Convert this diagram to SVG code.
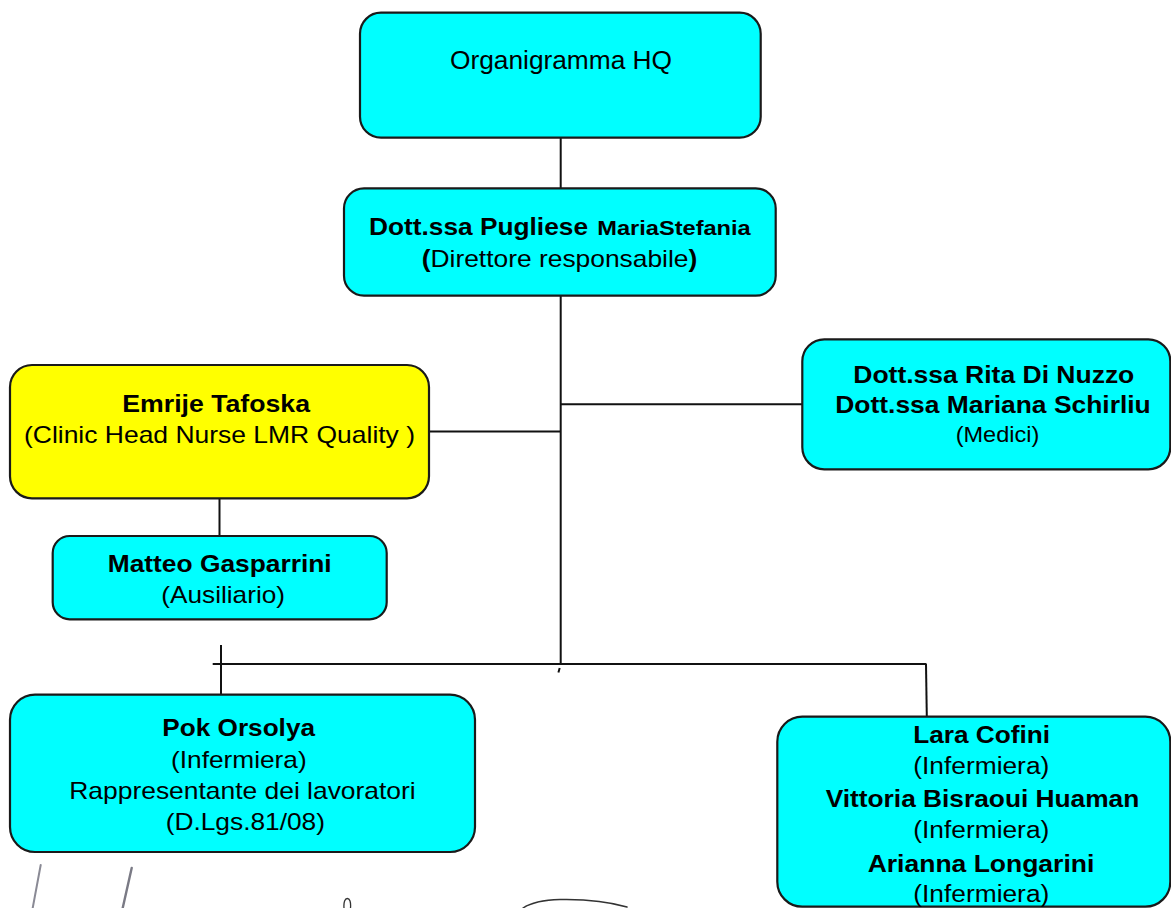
<svg xmlns="http://www.w3.org/2000/svg" width="1171" height="908" viewBox="0 0 1171 908">
<style>
.box{stroke:#1a1a1a;stroke-width:2.2}
.cy{fill:#00FFFF}
.ye{fill:#FFFF00}
.ln{stroke:#111;stroke-width:2;fill:none}
text{font-family:"Liberation Sans",Arial,sans-serif;fill:#000}
.b{font-weight:bold}
</style>
<rect width="1171" height="908" fill="#fff"/>
<g id="connectors">
<line class="ln" x1="560.7" y1="137.7" x2="560.7" y2="188.3"/>
<line class="ln" x1="560.7" y1="295.7" x2="560.7" y2="664"/>
<line class="ln" x1="560.7" y1="404.3" x2="802.3" y2="404.3"/>
<line class="ln" x1="429" y1="431.5" x2="560.7" y2="431.5"/>
<line class="ln" x1="219.5" y1="498.3" x2="219.5" y2="536"/>
<line class="ln" x1="212.7" y1="664" x2="926.5" y2="664"/>
<line class="ln" x1="221" y1="645" x2="221" y2="694.7"/>
<path class="ln" d="M926 664 L926.8 716.7"/>
<path class="ln" d="M559.7 668 L558.4 672.5" stroke-width="1.6"/>
</g>
<g id="node-hq">
<rect class="box cy" x="360" y="12.7" width="400.7" height="125" rx="21"/>
<text x="450" y="69" font-size="25" textLength="222" lengthAdjust="spacingAndGlyphs">Organigramma HQ</text>
</g>
<g id="node-direttore">
<rect class="box cy" x="344" y="188.3" width="431.7" height="107.4" rx="20"/>
<text class="b" x="369" y="235" font-size="24" textLength="219" lengthAdjust="spacingAndGlyphs">Dott.ssa Pugliese</text>
<text class="b" x="597.3" y="235" font-size="21" textLength="153.4" lengthAdjust="spacingAndGlyphs">MariaStefania</text>
<text x="421.7" y="266.7" font-size="24" textLength="275.6" lengthAdjust="spacingAndGlyphs"><tspan class="b">(</tspan>Direttore responsabile<tspan class="b">)</tspan></text>
</g>
<g id="node-tafoska">
<rect class="box ye" x="10" y="365" width="419" height="133.3" rx="22"/>
<text class="b" x="122.3" y="411.7" font-size="24" textLength="187.7" lengthAdjust="spacingAndGlyphs">Emrije Tafoska</text>
<text x="24" y="443.3" font-size="24" textLength="391" lengthAdjust="spacingAndGlyphs">(Clinic Head Nurse LMR Quality )</text>
</g>
<g id="node-medici">
<rect class="box cy" x="802.3" y="339.3" width="368" height="130" rx="22"/>
<text class="b" x="853.3" y="383.3" font-size="24" textLength="281" lengthAdjust="spacingAndGlyphs">Dott.ssa Rita Di Nuzzo</text>
<text class="b" x="835.3" y="413.3" font-size="24" textLength="315.4" lengthAdjust="spacingAndGlyphs">Dott.ssa Mariana Schirliu</text>
<text x="955.7" y="442" font-size="22" textLength="83.6" lengthAdjust="spacingAndGlyphs">(Medici)</text>
</g>
<g id="node-gasparrini">
<rect class="box cy" x="52.7" y="536" width="334" height="83.3" rx="17"/>
<text class="b" x="107.7" y="571.7" font-size="24" textLength="224" lengthAdjust="spacingAndGlyphs">Matteo Gasparrini</text>
<text x="161.3" y="603.3" font-size="24" textLength="123.7" lengthAdjust="spacingAndGlyphs">(Ausiliario)</text>
</g>
<g id="node-orsolya">
<rect class="box cy" x="10" y="694.7" width="465" height="157.3" rx="25"/>
<text class="b" x="162.3" y="735.7" font-size="24" textLength="152.7" lengthAdjust="spacingAndGlyphs">Pok Orsolya</text>
<text x="171" y="768" font-size="24" textLength="135.7" lengthAdjust="spacingAndGlyphs">(Infermiera)</text>
<text x="69.3" y="799" font-size="24" textLength="346.4" lengthAdjust="spacingAndGlyphs">Rappresentante dei lavoratori</text>
<text x="165.7" y="829.7" font-size="24" textLength="159.3" lengthAdjust="spacingAndGlyphs">(D.Lgs.81/08)</text>
</g>
<g id="node-infermiere">
<rect class="box cy" x="777.3" y="716.7" width="393" height="190" rx="25"/>
<text class="b" x="913.3" y="742.7" font-size="24" textLength="136.7" lengthAdjust="spacingAndGlyphs">Lara Cofini</text>
<text x="913.3" y="774.3" font-size="23" textLength="136" lengthAdjust="spacingAndGlyphs">(Infermiera)</text>
<text class="b" x="825.7" y="806.7" font-size="24" textLength="313.6" lengthAdjust="spacingAndGlyphs">Vittoria Bisraoui Huaman</text>
<text x="913.3" y="838.3" font-size="23" textLength="136" lengthAdjust="spacingAndGlyphs">(Infermiera)</text>
<text class="b" x="867.7" y="871.7" font-size="24" textLength="226.6" lengthAdjust="spacingAndGlyphs">Arianna Longarini</text>
<text x="913.3" y="901.7" font-size="23" textLength="136" lengthAdjust="spacingAndGlyphs">(Infermiera)</text>
</g>
<g id="signatures" fill="none" stroke-linecap="round">
<path d="M40.7 865 L32.7 908" stroke="#8a8a95" stroke-width="2"/>
<path d="M131.7 868 L122.7 908" stroke="#7a7a85" stroke-width="2.4"/>
<path d="M344 908 C343.5 902 345 898.5 347.3 898.5 C349.8 898.5 351 902 350.5 908" stroke="#333" stroke-width="1.3"/>
<path d="M523 908 C532 902 545 900 560 899.5 C585 899 610 902 627 907" stroke="#333" stroke-width="1.5"/>
</g>
</svg>
